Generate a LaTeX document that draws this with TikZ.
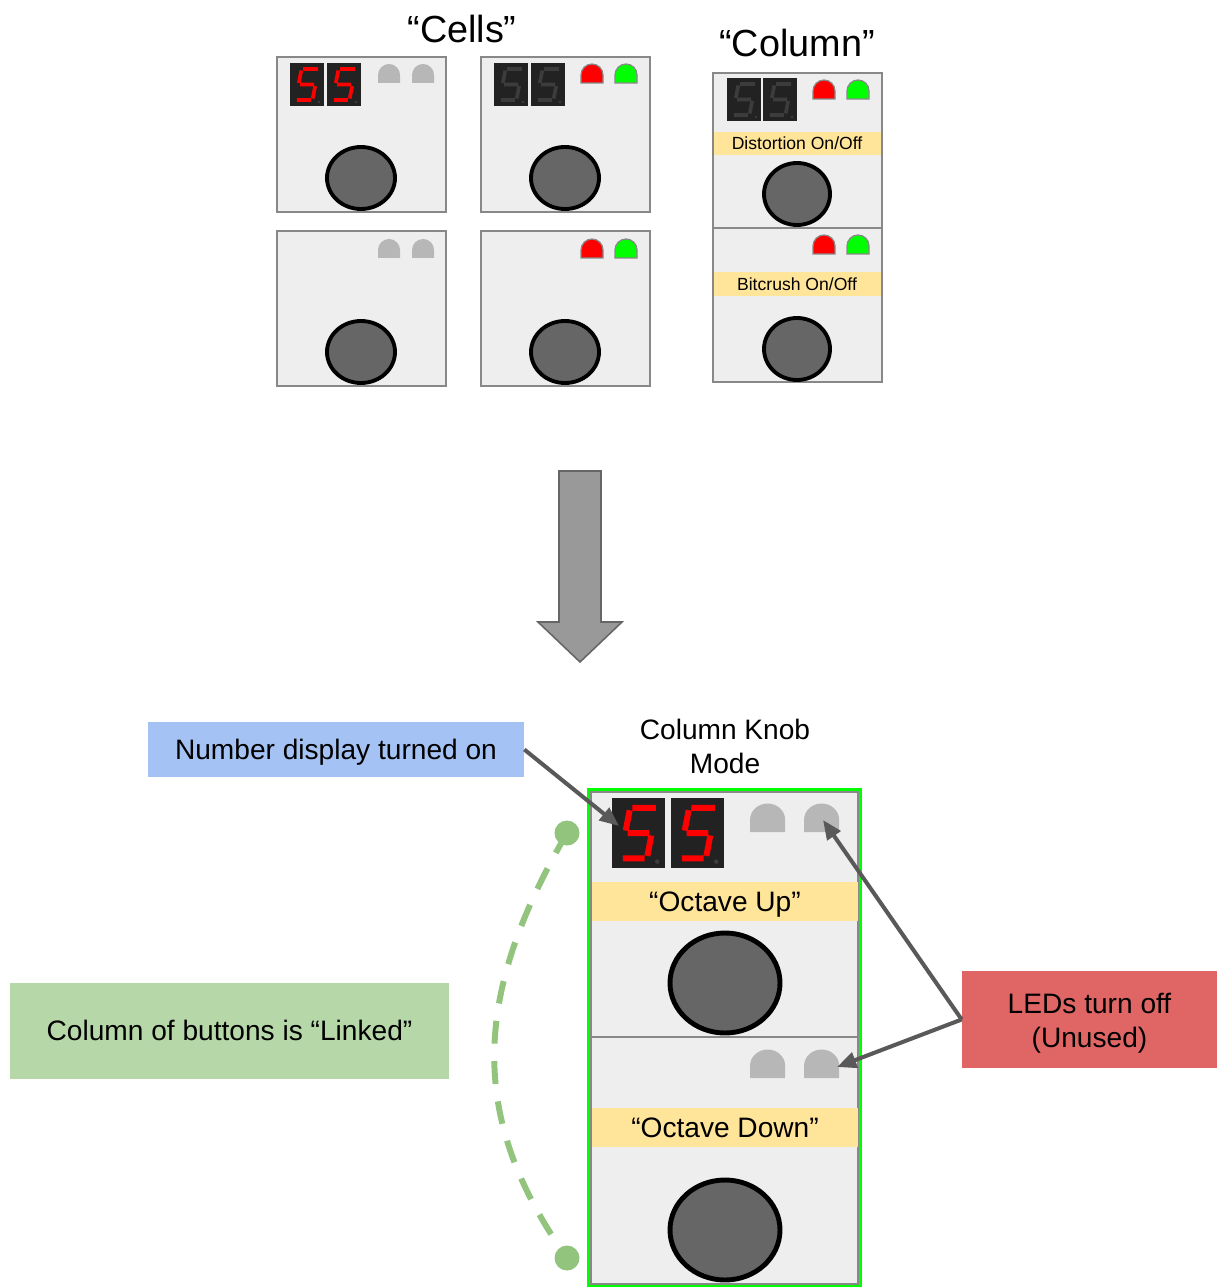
\documentclass[tikz,border=0pt]{standalone}
\usepackage{fontspec}
\setmainfont{Liberation Sans}
\usetikzlibrary{arrows.meta}

\definecolor{panelgray}{HTML}{EEEEEE}
\definecolor{edgegray}{HTML}{888888}
\definecolor{knobgray}{HTML}{666666}
\definecolor{ledoff}{HTML}{B7B7B7}
\definecolor{ledred}{HTML}{FF0000}
\definecolor{ledgreen}{HTML}{00FF00}
\definecolor{bandyellow}{HTML}{FFE599}
\definecolor{segbg}{HTML}{222222}
\definecolor{segdim}{HTML}{3C3C3C}
\definecolor{arrowgray}{HTML}{595959}
\definecolor{lblblue}{HTML}{A4C2F4}
\definecolor{lblred}{HTML}{E06666}
\definecolor{lblgreen}{HTML}{B6D7A8}
\definecolor{linkgreen}{HTML}{93C47D}
\definecolor{bigarrow}{HTML}{999999}

\begin{document}
\begin{tikzpicture}[
  x=0.02cm, y=-0.02cm,
  panel/.style={fill=panelgray, draw=edgegray, line width=0.8pt},
  band/.style={fill=bandyellow},
  knob/.style={fill=knobgray, draw=black, line width=2.2pt},
  title/.style={font=\fontsize{21.5}{26}\selectfont},
  lbl/.style={inner sep=0pt, font=\fontsize{16}{19.3}\selectfont, align=center},
  oneline/.style={lbl, text height=14.5pt, text depth=3.4pt},
  small/.style={font=\fontsize{10}{12}\selectfont, inner sep=0pt, text height=9.05pt, text depth=2.12pt},
  pointer/.style={draw=arrowgray, line width=2.3pt, -{Triangle[length=11pt,width=9pt]}},
  linkdot/.style={circle, fill=linkgreen, minimum size=0.5cm, inner sep=0pt},
  pics/led/.style={code={
    \path[#1] (0,0) -- (0,-8) .. controls (0,-14.1) and (4.9,-19) .. (11,-19)
      .. controls (17.1,-19) and (22,-14.1) .. (22,-8) -- (22,0) -- cycle;
  }},
  pics/digit/.style={code={
    \fill[segbg] (0,0) rectangle (34,43);
    \draw[#1, line cap=butt] (13.1,6) -- (28.1,6) (11.3,7.5) -- (8.8,20)
      (10,21.5) -- (24,21.5) (25.2,23) -- (22.7,35.5) (6.9,37) -- (20.9,37);
    \fill[segdim] (29,39) circle (1.4);
  }}
]
\useasboundingbox (0,0) rectangle (1217,1287);

% titles
\node[title] (cellsT) at (462,29) {“Cells”};
\node[title] (colT) at (797,43) {“Column”};

% four cells
\foreach \cx/\cy in {277/57, 481/57, 277/231, 481/231} {
  \draw[panel] (\cx,\cy) rectangle ++(169,155);
  \draw[knob] (\cx+84,\cy+121) ellipse [x radius=34, y radius=31];
}
\pic at (290,63) {digit={red, line width=2.1pt}};
\pic at (327,63) {digit={red, line width=2.1pt}};
\pic at (378,83) {led={fill=ledoff}};
\pic at (412,83) {led={fill=ledoff}};
\pic at (494,63) {digit={segdim, line width=2.1pt}};
\pic at (531,63) {digit={segdim, line width=2.1pt}};
\pic at (581,83) {led={fill=ledred, draw=edgegray, line width=0.7pt}};
\pic at (615,83) {led={fill=ledgreen, draw=edgegray, line width=0.7pt}};
\pic at (378,258) {led={fill=ledoff}};
\pic at (412,258) {led={fill=ledoff}};
\pic at (581,258) {led={fill=ledred, draw=edgegray, line width=0.7pt}};
\pic at (615,258) {led={fill=ledgreen, draw=edgegray, line width=0.7pt}};

% column
\draw[panel] (713,73) rectangle (882,228);
\draw[panel] (713,228) rectangle (882,382);
\pic at (727,78) {digit={segdim, line width=2.1pt}};
\pic at (763,78) {digit={segdim, line width=2.1pt}};
\pic at (813,99) {led={fill=ledred, draw=edgegray, line width=0.7pt}};
\pic at (847,99) {led={fill=ledgreen, draw=edgegray, line width=0.7pt}};
\pic at (813,254) {led={fill=ledred, draw=edgegray, line width=0.7pt}};
\pic at (847,254) {led={fill=ledgreen, draw=edgegray, line width=0.7pt}};
\fill[band] (714,132) rectangle (881,155);
\fill[band] (714,272) rectangle (881,296);
\node[small] (distT) at (797,143.5) {Distortion On/Off};
\node[small] (bitT) at (797,284) {Bitcrush On/Off};
\draw[knob] (797,194) ellipse [x radius=33, y radius=31];
\draw[knob] (797,349) ellipse [x radius=33, y radius=31];

% big arrow
\draw[fill=bigarrow, draw=knobgray, line width=0.9pt] (559,471) -- (601,471) -- (601,622)
  -- (622,622) -- (580,662) -- (538,622) -- (559,622) -- cycle;

% knob mode column
\node[lbl] (modeT) at (725,746) {Column Knob\\Mode};
\draw[ledgreen, line width=1.4pt] (588.5,789.5) rectangle (860.5,1286);
\draw[panel] (591,792) rectangle (858,1037);
\draw[panel] (591,1037) rectangle (858,1284);
\pic[xscale=1.56, yscale=1.63] at (612,798) {digit={red, line width=3.4pt}};
\pic[xscale=1.56, yscale=1.63] at (671,798) {digit={red, line width=3.4pt}};
\pic[xscale=1.6, yscale=1.5] at (750,832) {led={fill=ledoff}};
\pic[xscale=1.6, yscale=1.5] at (804,832) {led={fill=ledoff}};
\pic[xscale=1.6, yscale=1.5] at (750,1078) {led={fill=ledoff}};
\pic[xscale=1.6, yscale=1.5] at (804,1078) {led={fill=ledoff}};
\fill[band] (591.5,882) rectangle (857.5,921);
\fill[band] (591.5,1108) rectangle (857.5,1147);
\node[oneline] (upT) at (725,902) {“Octave Up”};
\node[oneline] (downT) at (725,1128) {“Octave Down”};
\draw[knob, line width=2.8pt] (725,983) ellipse [x radius=55, y radius=50];
\draw[knob, line width=2.8pt] (725,1230) ellipse [x radius=55, y radius=50];

% labels and pointers
\coordinate (dispL) at (619,826);
\coordinate (ledTop) at (823,820);
\coordinate (ledBot) at (837,1067);
\node[oneline, fill=lblblue, minimum width=7.52cm, minimum height=1.1cm] (numlbl) at (336,749.5) {Number display turned on};
\node[fill=lblred, minimum width=5.1cm, minimum height=1.94cm, inner sep=0pt,
  label={[lbl, yshift=-2.3pt]center:LEDs turn off\\(Unused)}] (ledlbl) at (1089.5,1019.5) {};
\node[oneline, fill=lblgreen, minimum width=8.78cm, minimum height=1.92cm] (linklbl) at (229.5,1031) {Column of buttons is “Linked”};
\draw[pointer] (numlbl.east) -- (dispL);
\draw[pointer] (ledlbl.west) -- (ledTop);
\draw[pointer] (ledlbl.west) -- (ledBot);

% linked column
\node[linkdot] (linkTop) at (567,833) {};
\node[linkdot] (linkBot) at (567,1258) {};
\draw[linkgreen, line width=3.4pt, dash pattern=on 13pt off 10pt] (linkTop.center)
  .. controls (470,1000) and (470,1120) .. (linkBot.center);

\end{tikzpicture}
\end{document}
